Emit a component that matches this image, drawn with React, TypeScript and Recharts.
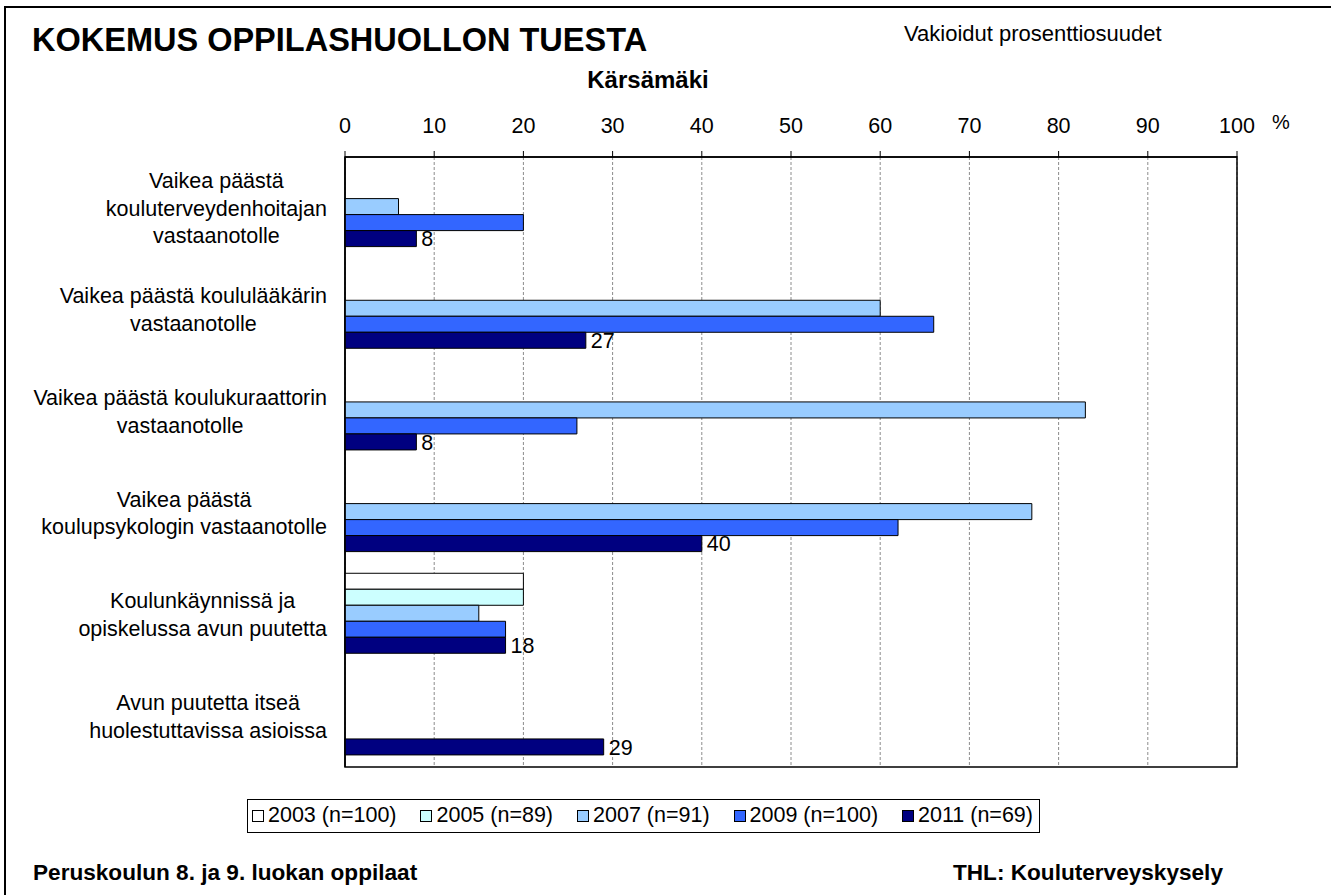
import React from "react";
import { BarChart, Bar, XAxis, YAxis, CartesianGrid, ReferenceArea, LabelList } from "recharts";

const categoryLines: string[][] = [
  ["Vaikea päästä", "kouluterveydenhoitajan", "vastaanotolle"],
  ["Vaikea päästä koululääkärin", "vastaanotolle"],
  ["Vaikea päästä koulukuraattorin", "vastaanotolle"],
  ["Vaikea päästä", "koulupsykologin vastaanotolle"],
  ["Koulunkäynnissä ja", "opiskelussa avun puutetta"],
  ["Avun puutetta itseä", "huolestuttavissa asioissa"],
];
const categories = categoryLines.map((l) => l.join(" "));

const v2003: (number | null)[] = [null, null, null, null, 20, null];
const v2005: (number | null)[] = [null, null, null, null, 20, null];
const v2007: (number | null)[] = [6, 60, 83, 77, 15, null];
const v2009: (number | null)[] = [20, 66, 26, 62, 18, null];
const v2011: (number | null)[] = [8, 27, 8, 40, 18, 29];

const seriesKeys = ["y2003", "y2005", "y2007", "y2009", "y2011"];
const seriesNames = ["2003 (n=100)", "2005 (n=89)", "2007 (n=91)", "2009 (n=100)", "2011 (n=69)"];
const seriesColors = ["#FFFFFF", "#CCFFFF", "#99CCFF", "#3366FF", "#000080"];
const xTicks = [0, 10, 20, 30, 40, 50, 60, 70, 80, 90, 100];

const data = categories.map((c, i) => ({
  name: c,
  y2003: v2003[i],
  y2005: v2005[i],
  y2007: v2007[i],
  y2009: v2009[i],
  y2011: v2011[i],
}));

const FONT = "'Liberation Sans', Arial, Helvetica, sans-serif";
const FS = 21.5;

let ctx: CanvasRenderingContext2D | null = null;
function measure(t: string): number {
  if (!ctx) {
    const c = document.createElement("canvas");
    ctx = c.getContext("2d");
  }
  if (!ctx) return t.length * FS * 0.5;
  ctx.font = `${FS}px ${FONT}`;
  return ctx.measureText(t).width;
}

const CategoryTick = (props: any) => {
  const { y, payload } = props;
  const idx = categories.indexOf(payload.value);
  const lines = idx >= 0 ? categoryLines[idx] : [String(payload.value)];
  const maxW = Math.max(...lines.map(measure));
  const cx = 327 - maxW / 2;
  const lh = 27.5;
  const y0 = y - ((lines.length - 1) * lh) / 2 + 7.7;
  return (
    <text textAnchor="middle" fontSize={FS} fontFamily={FONT} fill="#000">
      {lines.map((l, i) => (
        <tspan key={i} x={cx} y={y0 + i * lh}>
          {l}
        </tspan>
      ))}
    </text>
  );
};

const abs = (o: React.CSSProperties): React.CSSProperties => ({
  position: "absolute",
  fontFamily: FONT,
  color: "#000",
  lineHeight: 1,
  whiteSpace: "nowrap",
  ...o,
});

export default function App() {
  return (
    <div style={{ position: "absolute", left: 0, top: 0, width: 1331, height: 895, background: "#fff", overflow: "hidden" }}>
      <div style={{ position: "absolute", left: 4, top: 6, width: 1340, height: 900, borderLeft: "2px solid #000", borderTop: "2px solid #000" }} />
      <div style={abs({ left: 32, top: 24, fontSize: 32.5, fontWeight: "bold" })}>KOKEMUS OPPILASHUOLLON TUESTA</div>
      <div style={abs({ left: 904, top: 23, fontSize: 22 })}>Vakioidut prosenttiosuudet</div>
      <div style={abs({ left: 548, width: 200, textAlign: "center", top: 68, fontSize: 24, fontWeight: "bold" })}>Kärsämäki</div>
      <div style={abs({ left: 1272, top: 112, fontSize: 20 })}>%</div>
      <div style={{ position: "absolute", left: 0, top: 0 }}>
        <BarChart
          width={1331}
          height={895}
          data={data}
          layout="vertical"
          margin={{ top: 117, right: 94, bottom: 128, left: 10 }}
          barCategoryGap={9.6}
          barGap={0}
        >
          <CartesianGrid horizontal={false} vertical={true} stroke="#8c8c8c" strokeDasharray="3 2" />
          <XAxis
            type="number"
            orientation="top"
            domain={[0, 100]}
            ticks={xTicks}
            interval={0}
            height={40}
            axisLine={{ stroke: "#000", strokeWidth: 1.5 }}
            tickLine={{ stroke: "#000" }}
            tickSize={6}
            tickMargin={18}
            tick={{ fontSize: FS, fill: "#000", fontFamily: FONT }}
          />
          <YAxis
            type="category"
            dataKey="name"
            width={335}
            axisLine={{ stroke: "#000", strokeWidth: 1.5 }}
            tickLine={false}
            tick={<CategoryTick />}
            interval={0}
          />
          {seriesKeys.map((k, i) => (
            <Bar key={k} dataKey={k} name={seriesNames[i]} fill={seriesColors[i]} stroke="#000" strokeWidth={1} isAnimationActive={false}>
              {k === "y2011" ? (
                <LabelList dataKey={k} position="right" offset={5} style={{ fontSize: FS, fill: "#000", fontFamily: FONT }} />
              ) : null}
            </Bar>
          ))}
          <ReferenceArea x1={0} x2={100} fill="none" fillOpacity={0} stroke="#000" strokeWidth={1.5} ifOverflow="visible" />
        </BarChart>
      </div>
      <div
        style={{
          position: "absolute",
          left: 247,
          top: 799,
          width: 781,
          height: 32,
          paddingLeft: 4,
          paddingRight: 6,
          border: "1px solid #000",
          display: "flex",
          alignItems: "center",
          justifyContent: "space-between",
          fontFamily: FONT,
          fontSize: FS,
          background: "#fff",
        }}
      >
        {seriesNames.map((n, i) => (
          <div key={n} style={{ display: "flex", alignItems: "center", whiteSpace: "nowrap" }}>
            <div style={{ width: 10, height: 10, background: seriesColors[i], border: "1px solid #000", marginRight: 4 }} />
            <span style={{ lineHeight: 1 }}>{n}</span>
          </div>
        ))}
      </div>
      <div style={abs({ left: 33, top: 862, fontSize: 22.6, fontWeight: "bold" })}>Peruskoulun 8. ja 9. luokan oppilaat</div>
      <div style={abs({ left: 953, top: 862, fontSize: 22.6, fontWeight: "bold" })}>THL: Kouluterveyskysely</div>
    </div>
  );
}
